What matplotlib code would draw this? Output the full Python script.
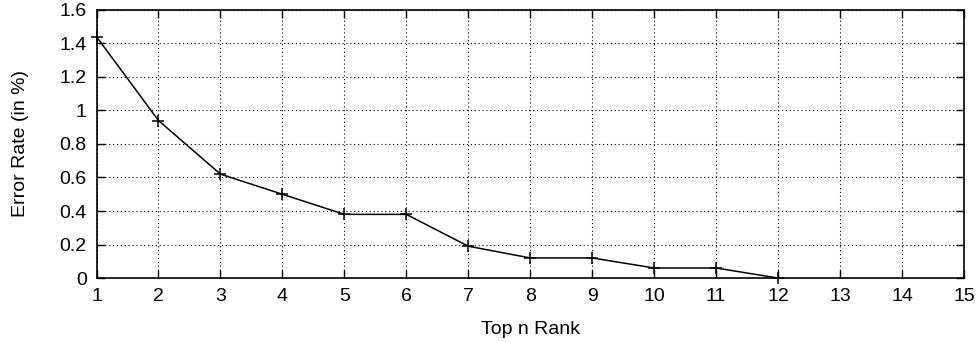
import matplotlib
matplotlib.use("Agg")
import matplotlib.pyplot as plt

# data
ranks = [1, 2, 3, 4, 5, 6, 7, 8, 9, 10, 11, 12]
error_rate = [1.44, 0.94, 0.62, 0.50, 0.38, 0.38, 0.19, 0.12, 0.12, 0.06, 0.06, 0.0]
x_ticks = list(range(1, 16))
y_ticks = [0, 0.2, 0.4, 0.6, 0.8, 1, 1.2, 1.4, 1.6]
y_tick_labels = ['0', '0.2', '0.4', '0.6', '0.8', '1', '1.2', '1.4', '1.6']

plt.rcParams['font.family'] = ['Liberation Sans', 'DejaVu Sans']
plt.rcParams['font.size'] = 14

fig = plt.figure(figsize=(9.79, 3.42), dpi=100)
ax = fig.add_axes([0.0986, 0.187, 0.886, 0.784])

ax.plot(ranks, error_rate, color='black', linewidth=1.1, marker='+',
        markersize=8, markeredgewidth=1.1, clip_on=False, zorder=3)

ax.set_xlim(1, 15)
ax.set_ylim(0, 1.6)
ax.set_xticks(x_ticks)
ax.set_yticks(y_ticks)
ax.set_yticklabels(y_tick_labels)

ax.grid(True, color='black', linestyle=(0, (1, 2.5)), linewidth=0.8)
ax.tick_params(direction='in', length=6, width=1, top=True, right=True,
               labelsize=14, pad=7)
for s in ax.spines.values():
    s.set_linewidth(1.2)

ax.set_xlabel('Top n Rank', fontsize=14, labelpad=12)
ax.set_ylabel('Error Rate (in %)', fontsize=14, labelpad=22)

fig.savefig('out.png', dpi=100)
